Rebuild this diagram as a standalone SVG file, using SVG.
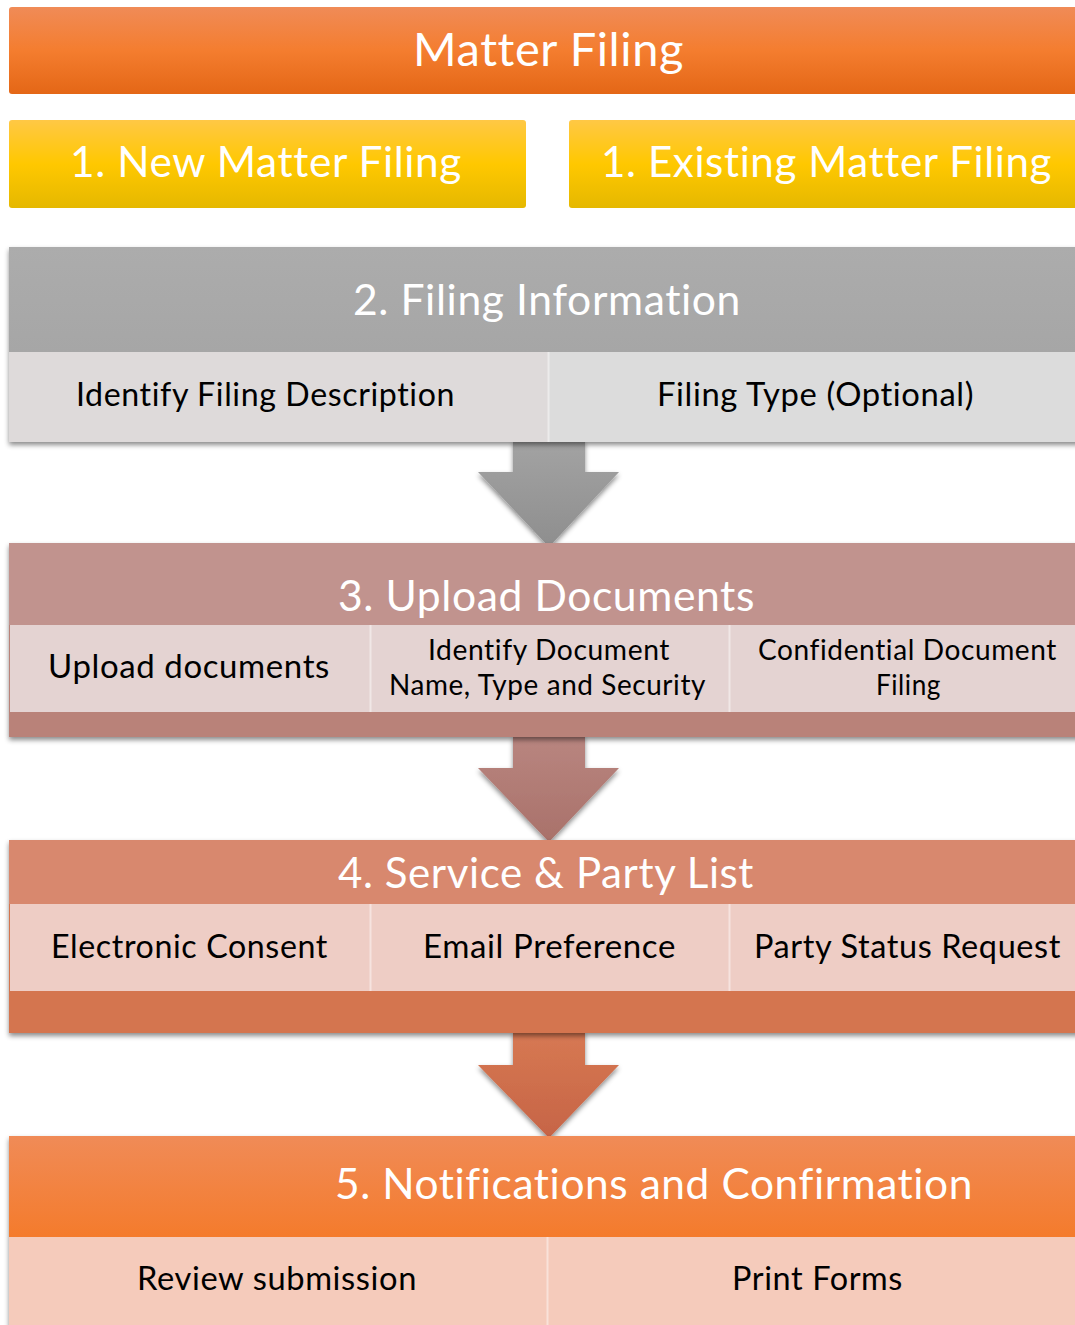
<svg xmlns="http://www.w3.org/2000/svg" width="1075" height="1325" viewBox="0 0 1075 1325">
<style>
.t{font-family:Lato,"Open Sans","Liberation Sans",sans-serif;text-anchor:middle;font-variant-ligatures:none;font-feature-settings:"liga" 0,"clig" 0,"dlig" 0,"calt" 0;letter-spacing:0.6px}
.w{fill:#FFFFFF}
.k{fill:#000000}
.big{font-size:43px}
.mid{font-size:32px}
.sm{font-size:28px}
.div{stroke:#FFFFFF;stroke-opacity:0.45;stroke-width:2}
</style>
<defs>
<linearGradient id="gOrange" x1="0" y1="0" x2="0" y2="1">
<stop offset="0" stop-color="#F08B57"/>
<stop offset="0.5" stop-color="#F47D2F"/>
<stop offset="1" stop-color="#E46716"/>
</linearGradient>
<linearGradient id="gOrange5" x1="0" y1="0" x2="0" y2="1">
<stop offset="0" stop-color="#F08B57"/>
<stop offset="1" stop-color="#F47B2C"/>
</linearGradient>
<linearGradient id="gYellow" x1="0" y1="0" x2="0" y2="1">
<stop offset="0" stop-color="#FFC845"/>
<stop offset="0.5" stop-color="#FFC800"/>
<stop offset="1" stop-color="#E5B800"/>
</linearGradient>
<linearGradient id="gGrey" x1="0" y1="0" x2="0" y2="1">
<stop offset="0" stop-color="#ACACAC"/>
<stop offset="1" stop-color="#A6A6A6"/>
</linearGradient>
<linearGradient id="aGrey" x1="0" y1="0" x2="0" y2="1">
<stop offset="0" stop-color="#A3A3A3"/>
<stop offset="1" stop-color="#8E8E8E"/>
</linearGradient>
<linearGradient id="aRose" x1="0" y1="0" x2="0" y2="1">
<stop offset="0" stop-color="#B98680"/>
<stop offset="1" stop-color="#A9716A"/>
</linearGradient>
<linearGradient id="aRust" x1="0" y1="0" x2="0" y2="1">
<stop offset="0" stop-color="#D77953"/>
<stop offset="1" stop-color="#C66446"/>
</linearGradient>
<filter id="sh" x="-5%" y="-10%" width="110%" height="130%">
<feDropShadow dx="0" dy="3" stdDeviation="2.5" flood-color="#000000" flood-opacity="0.45"/>
</filter>
</defs>

<g id="matter-filing">
<rect x="9" y="7" width="1080" height="87" rx="3" fill="url(#gOrange)"/>
<text class="t w" x="548.5" y="66" font-size="47" textLength="271" lengthAdjust="spacingAndGlyphs">Matter Filing</text>
</g>

<g id="new-matter-filing">
<rect x="9" y="120" width="517" height="88" rx="3" fill="url(#gYellow)"/>
<text class="t w" x="266" y="177" font-size="42" textLength="392" lengthAdjust="spacingAndGlyphs">1. New Matter Filing</text>
</g>

<g id="existing-matter-filing">
<rect x="569" y="120" width="520" height="88" rx="3" fill="url(#gYellow)"/>
<text class="t w" x="826.5" y="177" font-size="42" textLength="451" lengthAdjust="spacingAndGlyphs">1. Existing Matter Filing</text>
</g>

<g id="connectors">
<polygon filter="url(#sh)" points="513,440 585,440 585,472 619,472 549,547 478,472 513,472" fill="url(#aGrey)"/>
<polygon filter="url(#sh)" points="513,735 585,735 585,768 619,768 549,842 478,768 513,768" fill="url(#aRose)"/>
<polygon filter="url(#sh)" points="513,1031 585,1031 585,1065 619,1065 549,1138 478,1065 513,1065" fill="url(#aRust)"/>
</g>

<g id="filing-information">
<g filter="url(#sh)">
<rect x="9" y="247" width="1080" height="195" fill="#DDDADA"/>
</g>
<rect x="9" y="247" width="1080" height="105" fill="url(#gGrey)"/>
<rect x="10" y="352" width="538" height="90" fill="#DEDADA"/>
<rect x="549" y="352" width="540" height="90" fill="#DCDCDC"/>
<line class="div" x1="548.5" y1="352" x2="548.5" y2="442"/>
<text class="t w big" x="547" y="315" textLength="388" lengthAdjust="spacingAndGlyphs">2. Filing Information</text>
<text class="t k mid" x="265.5" y="406" textLength="379" lengthAdjust="spacingAndGlyphs">Identify Filing Description</text>
<text class="t k mid" x="815.5" y="406" textLength="317" lengthAdjust="spacingAndGlyphs">Filing Type (Optional)</text>
</g>

<g id="upload-documents">
<g filter="url(#sh)">
<rect x="9" y="543" width="1080" height="194" fill="#B98279"/>
</g>
<rect x="9" y="543" width="1080" height="82" fill="#C1938E"/>
<rect x="10" y="625" width="1079" height="87" fill="#E4D3D2"/>
<line class="div" x1="370.5" y1="625" x2="370.5" y2="712"/>
<line class="div" x1="729.5" y1="625" x2="729.5" y2="712"/>
<text class="t w big" x="546.5" y="611" textLength="417" lengthAdjust="spacingAndGlyphs">3. Upload Documents</text>
<text class="t k mid" x="189" y="678" textLength="282" lengthAdjust="spacingAndGlyphs">Upload documents</text>
<text class="t k sm" x="549" y="660" textLength="242" lengthAdjust="spacingAndGlyphs">Identify Document</text>
<text class="t k sm" x="547.5" y="695" textLength="317" lengthAdjust="spacingAndGlyphs">Name, Type and Security</text>
<text class="t k sm" x="907.5" y="660" textLength="299" lengthAdjust="spacingAndGlyphs">Confidential Document</text>
<text class="t k sm" x="908.5" y="695" textLength="65" lengthAdjust="spacingAndGlyphs">Filing</text>
</g>

<g id="service-party-list">
<g filter="url(#sh)">
<rect x="9" y="840" width="1080" height="193" fill="#D47550"/>
</g>
<rect x="9" y="840" width="1080" height="64" fill="#D8886E"/>
<rect x="10" y="904" width="1079" height="87" fill="#EECDC5"/>
<line class="div" x1="370.5" y1="904" x2="370.5" y2="991"/>
<line class="div" x1="729.5" y1="904" x2="729.5" y2="991"/>
<text class="t w big" x="546" y="888" textLength="416" lengthAdjust="spacingAndGlyphs">4. Service &amp; Party List</text>
<text class="t k mid" x="189.5" y="958" textLength="277" lengthAdjust="spacingAndGlyphs">Electronic Consent</text>
<text class="t k mid" x="549.5" y="958" textLength="253" lengthAdjust="spacingAndGlyphs">Email Preference</text>
<text class="t k mid" x="907.5" y="958" textLength="307" lengthAdjust="spacingAndGlyphs">Party Status Request</text>
</g>

<g id="notifications-confirmation">
<g filter="url(#sh)">
<rect x="9" y="1136" width="1080" height="200" fill="#F5CBBB"/>
</g>
<rect x="9" y="1136" width="1080" height="101" fill="url(#gOrange5)"/>
<rect x="10" y="1237" width="1079" height="95" fill="#F5CBBB"/>
<line class="div" x1="547.5" y1="1237" x2="547.5" y2="1325"/>
<text class="t w big" x="654" y="1199" textLength="638" lengthAdjust="spacingAndGlyphs">5. Notifications and Confirmation</text>
<text class="t k mid" x="277" y="1290" textLength="280" lengthAdjust="spacingAndGlyphs">Review submission</text>
<text class="t k mid" x="817.5" y="1290" textLength="171" lengthAdjust="spacingAndGlyphs">Print Forms</text>
</g>
</svg>
